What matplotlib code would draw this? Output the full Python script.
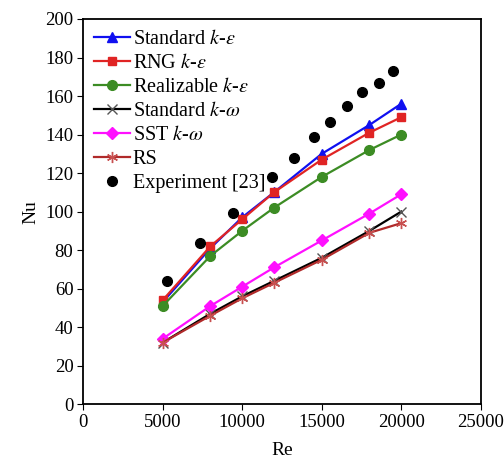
import matplotlib.pyplot as plt

plt.rcParams['font.family'] = 'Liberation Serif'
plt.rcParams['mathtext.fontset'] = 'stix'

# Reynolds numbers of the simulations
re = [5000, 8000, 10000, 12000, 15000, 18000, 20000]

std_ke = [53, 81, 97, 110, 130, 145, 156]
rng_ke = [54, 82, 96, 110, 127, 141, 149]
real_ke = [51, 77, 90, 102, 118, 132, 140]
std_kw = [32, 47, 56, 64, 76, 90, 100]
sst_kw = [34, 51, 61, 71, 85, 99, 109]
rs = [32, 46, 55, 63, 75, 89, 94]

# experiment [23]
re_exp = [5300, 7350, 9400, 11850, 13280, 14530, 15500, 16600, 17550, 18600, 19450]
nu_exp = [64, 83.5, 99.5, 118, 128, 138.5, 146.5, 155, 162, 167, 173]

fig = plt.figure(figsize=(5.04, 4.63), dpi=100)
ax = fig.add_axes([0.165, 0.127, 0.789, 0.832])

ax.plot(re, std_ke, color='#1010F0', marker='^', ms=7, lw=1.6, label='Standard $k$-$\\varepsilon$')
ax.plot(re, rng_ke, color='#E02424', marker='s', ms=6, lw=1.6, label='RNG $k$-$\\varepsilon$')
ax.plot(re, real_ke, color='#3C8C24', marker='o', ms=7, lw=1.6, label='Realizable $k$-$\\varepsilon$')
ax.plot(re, std_kw, color='black', marker='x', ms=7, mec='#555555', lw=1.6, label='Standard $k$-$\\omega$')
ax.plot(re, sst_kw, color='#FF10FF', marker='D', ms=6, lw=1.6, label='SST $k$-$\\omega$')
ax.plot(re, rs, color='#B02A2A', marker=(6, 2, 0), ms=8, mec='#C85050', lw=1.6, label='RS')
ax.plot(re_exp, nu_exp, 'o', color='black', ms=7, ls='none', label='Experiment [23]')

ax.set_xlim(0, 25000)
ax.set_ylim(0, 200)
ax.set_xticks(range(0, 25001, 5000))
ax.set_yticks(range(0, 201, 20))
ax.tick_params(direction='out', labelsize=13.5, length=4, pad=3)
for s in ax.spines.values():
    s.set_linewidth(1.3)

ax.set_xlabel('Re', fontsize=14, labelpad=8)
ax.set_ylabel('Nu', fontsize=14, labelpad=4)

ax.legend(loc='upper left', frameon=False, fontsize=14.5, handlelength=1.8,
          handletextpad=0.1, labelspacing=0.24, borderaxespad=0.2,
          borderpad=0.35)

fig.savefig('out.png', dpi=100)
plt.close(fig)
